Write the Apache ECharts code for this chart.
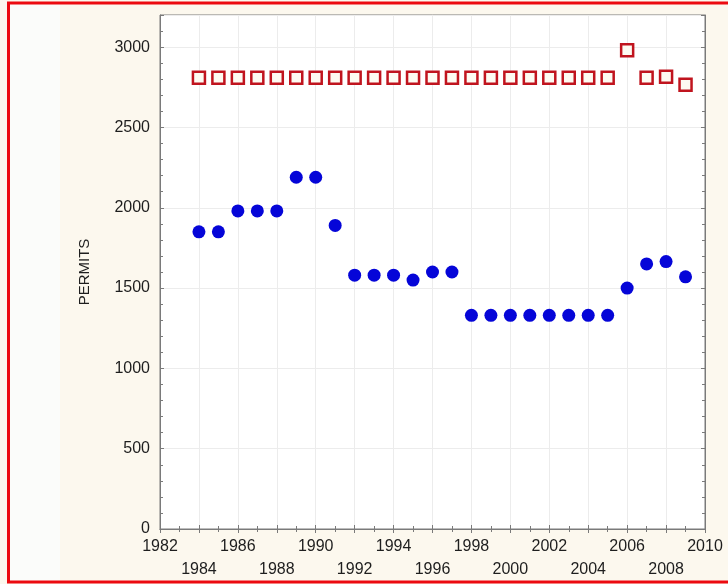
<!DOCTYPE html>
<html>
<head>
<meta charset="utf-8">
<script src="https://cdn.jsdelivr.net/npm/echarts@6/dist/echarts.min.js"></script>
<style>
  html, body { margin: 0; padding: 0; background: #fcf8ee; }
  #chart { width: 728px; height: 584px; }
</style>
</head>
<body>
<div id="chart"></div>
<script>
// years shown on the chart
const years = [1984, 1985, 1986, 1987, 1988, 1989, 1990, 1991, 1992, 1993, 1994, 1995, 1996,
  1997, 1998, 1999, 2000, 2001, 2002, 2003, 2004, 2005, 2006, 2007, 2008, 2009]
// blue dots
const permitsIssued = [1850, 1850, 1980, 1980, 1980, 2190, 2190, 1890, 1580, 1580, 1580, 1550, 1600,
  1600, 1330, 1330, 1330, 1330, 1330, 1330, 1330, 1330, 1500, 1650, 1665, 1570]
// red open squares
const permitsCap = [2810, 2810, 2810, 2810, 2810, 2810, 2810, 2810, 2810, 2810, 2810, 2810, 2810,
  2810, 2810, 2810, 2810, 2810, 2810, 2810, 2810, 2810, 2980, 2810, 2815, 2765]
const xRange = [1982, 2010]
const yRange = [0, 3200]

const chart = echarts.init(document.getElementById('chart'))

const axisColor = '#7a7a7a'
const gridColor = '#ececec'
const textColor = '#1e1e1e'
const font = 'Arial, "Liberation Sans", sans-serif'

const toPairs = vals => years.map((y, i) => [y, vals[i]])

const option = {
  backgroundColor: '#fcf8ee',
  animation: false,
  graphic: [
    // lighter strip on the left of the frame
    { type: 'rect', z: -1, shape: { x: 10, y: 4, width: 50, height: 578 }, style: { fill: '#fbfcfa' } },
    // red frame
    { type: 'rect', z: 100, shape: { x: 8.5, y: 3, width: 740, height: 579 },
      style: { fill: 'none', stroke: '#ec0a10', lineWidth: 3 } }
  ],
  grid: {
    left: 160,
    right: 23,
    top: 15,
    bottom: 55,
    backgroundColor: '#ffffff',
    show: true,
    borderColor: axisColor,
    borderWidth: 1
  },
  xAxis: [{
    type: 'value',
    min: xRange[0],
    max: xRange[1],
    interval: 2,
    axisLine: { show: true, onZero: false, lineStyle: { color: axisColor } },
    axisTick: { show: true, length: 4, inside: true, lineStyle: { color: axisColor } },
    minorTick: { show: true, splitNumber: 2, length: 3, lineStyle: { color: axisColor } },
    splitLine: { show: true, lineStyle: { color: gridColor } },
    axisLabel: {
      margin: 6,
      color: textColor,
      fontSize: 16,
      fontFamily: font,
      lineHeight: 23,
      showMinLabel: true,
      showMaxLabel: true,
      formatter: v => ((v - xRange[0]) / 2) % 2 === 1 ? '\n' + v : String(v)
    }
  }, {
    type: 'value',
    position: 'top',
    min: xRange[0],
    max: xRange[1],
    interval: 2,
    axisLine: { show: true, lineStyle: { color: axisColor } },
    axisTick: { show: true, length: 4, inside: true, lineStyle: { color: axisColor } },
    minorTick: { show: true, splitNumber: 2, length: 3, lineStyle: { color: axisColor } },
    splitLine: { show: false },
    axisLabel: { show: false }
  }],
  yAxis: [{
    type: 'value',
    min: yRange[0],
    max: yRange[1],
    interval: 500,
    name: 'PERMITS',
    nameLocation: 'middle',
    nameGap: 68,
    nameTextStyle: { color: textColor, fontSize: 15, fontFamily: font },
    axisLine: { show: true, lineStyle: { color: axisColor } },
    axisTick: { show: true, length: 4, inside: true, lineStyle: { color: axisColor } },
    minorTick: { show: true, splitNumber: 5, length: 3, lineStyle: { color: axisColor } },
    splitLine: { show: true, lineStyle: { color: gridColor } },
    axisLabel: {
      margin: 10,
      color: textColor,
      fontSize: 16,
      fontFamily: font,
      showMaxLabel: false,
      formatter: v => String(v)
    }
  }, {
    type: 'value',
    position: 'right',
    min: yRange[0],
    max: yRange[1],
    interval: 500,
    axisLine: { show: true, lineStyle: { color: axisColor } },
    axisTick: { show: true, length: 4, inside: true, lineStyle: { color: axisColor } },
    minorTick: { show: true, splitNumber: 5, length: 3, lineStyle: { color: axisColor } },
    splitLine: { show: false },
    axisLabel: { show: false }
  }],
  series: [{
    name: 'Permits',
    type: 'scatter',
    data: toPairs(permitsIssued),
    symbol: 'circle',
    symbolSize: 13,
    itemStyle: { color: '#0505d8', opacity: 1 }
  }, {
    name: 'Cap',
    type: 'scatter',
    data: toPairs(permitsCap),
    symbol: 'rect',
    symbolSize: 12,
    itemStyle: { color: '#fdfbf2', borderColor: '#c0141e', borderWidth: 2.5, opacity: 1 }
  }]
}

chart.setOption(option)
</script>
</body>
</html>
